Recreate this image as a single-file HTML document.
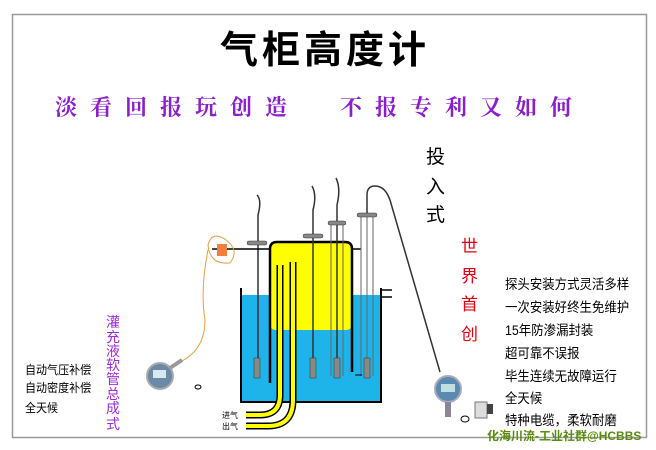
<!DOCTYPE html>
<html><head><meta charset="utf-8"><style>
html,body{margin:0;padding:0;background:#fff;}
svg{display:block;}
text{font-family:"Liberation Sans","Noto Sans CJK SC",sans-serif;}
</style></head><body>
<svg width="656" height="450" viewBox="0 0 656 450" xmlns="http://www.w3.org/2000/svg">
<rect x="0" y="0" width="656" height="450" fill="#fff"/>
<rect x="12.5" y="14.5" width="634" height="423" fill="#fff" stroke="#999" stroke-width="1.5"/>
<text x="325" y="63" text-anchor="middle" font-size="38" font-weight="bold" fill="#000" letter-spacing="4" style="font-family:'Noto Sans CJK SC',sans-serif">气柜高度计</text>
<text x="55" y="115" font-size="22" fill="#8a1ec8" letter-spacing="13" font-weight="bold" style="font-family:'Noto Serif CJK SC',serif">淡看回报玩创造</text>
<text x="340" y="115" font-size="22" fill="#8a1ec8" letter-spacing="13" font-weight="bold" style="font-family:'Noto Serif CJK SC',serif">不报专利又如何</text>
<g font-size="19" fill="#000"><text x="426" y="163">投</text><text x="426" y="193">入</text><text x="426" y="221">式</text></g>
<g font-size="17" fill="#e00010" style="font-family:'Noto Serif CJK SC',serif"><text x="461" y="252">世</text><text x="461" y="282">界</text><text x="461" y="310">首</text><text x="461" y="340">创</text></g>
<g font-size="13.5" fill="#000" transform="translate(505 0) scale(0.92 1)"><text x="0" y="289">探头安装方式灵活多样</text><text x="0" y="312">一次安装好终生免维护</text><text x="0" y="335">15年防渗漏封装</text><text x="0" y="358">超可靠不误报</text><text x="0" y="381">毕生连续无故障运行</text><text x="0" y="403">全天候</text><text x="0" y="425">特种电缆，柔软耐磨</text></g>
<text x="487" y="440" font-size="12" fill="#5a8a10" font-weight="bold">化海川流-工业社群@HCBBS</text>
<g font-size="12" fill="#000" transform="translate(25 0) scale(0.92 1)"><text x="0" y="374">自动气压补偿</text><text x="0" y="392">自动密度补偿</text><text x="0" y="412">全天候</text></g>
<g font-size="14" fill="#9a2ed0" text-anchor="middle"><text x="113" y="327">灌</text><text x="113" y="342">充</text><text x="113" y="356">液</text><text x="113" y="370">软</text><text x="113" y="384">管</text><text x="113" y="399">总</text><text x="113" y="413">成</text><text x="113" y="429">式</text></g>
<!-- tank -->
<rect x="242" y="295" width="138" height="106" fill="#1eb4ea"/>
<rect x="269" y="242" width="84" height="88" rx="7" fill="#ffff00"/>
<path d="M241 288 V402 H381 V288" fill="none" stroke="#000" stroke-width="2"/>
<path d="M381 290 H392 M381 297 H392" stroke="#000" stroke-width="1.5"/>
<path d="M270 383 V249 Q270 242 277 242 H345 Q352 242 352 249 V372" fill="none" stroke="#000" stroke-width="2.5"/>
<path d="M353 249 H361" stroke="#000" stroke-width="1.5"/>
<!-- yellow pipes -->
<g fill="none" stroke-linecap="butt">
<path d="M280 265 V395 Q280 415 260 415 H246" stroke="#000" stroke-width="7"/>
<path d="M280 265 V395 Q280 415 260 415 H246" stroke="#ffff00" stroke-width="4"/>
<path d="M293 262 V400 Q293 426 268 426 H246" stroke="#000" stroke-width="7"/>
<path d="M293 262 V400 Q293 426 268 426 H246" stroke="#ffff00" stroke-width="4"/>
</g>
<g font-size="8" fill="#000"><text x="222" y="418">进气</text><text x="222" y="429">出气</text></g>
<!-- probes -->
<g stroke="#333" fill="none">
<path d="M257 195 Q262 200 258 215 V360" stroke-width="1.5"/>
<path d="M312 186 Q317 195 313 210 V360" stroke-width="1.5"/>
<path d="M336 178 Q341 188 337 205 V360" stroke-width="1.5"/>
<path d="M331 222 V376 M343 222 V376" stroke="#666"/>
<path d="M367 215 V378 M361 215 V376 M373 215 V376" stroke="#666"/>
<path d="M367 215 V195 Q367 186 375 186 Q385 186 390 200 L440 372" stroke-width="1.5"/>
<path d="M355 375 H362" stroke="#000"/>
</g>
<g fill="#888" stroke="#333" stroke-width="0.5">
<rect x="247" y="241" width="20" height="4" rx="2"/>
<rect x="303" y="234" width="20" height="4" rx="2"/>
<rect x="328" y="221" width="18" height="4" rx="2"/>
<rect x="357" y="213" width="20" height="4" rx="2"/>
<rect x="254" y="358" width="6" height="20"/>
<rect x="310" y="358" width="6" height="20"/>
<rect x="334" y="358" width="6" height="20"/>
<rect x="364" y="358" width="6" height="20"/>
</g>
<!-- left sensor line -->
<path d="M212 249 H269" stroke="#000" stroke-width="1.5"/>
<rect x="217" y="244" width="10" height="12" fill="#f08040"/>
<path d="M226 240 Q240 250 230 263 Q210 265 208 245 Q212 230 226 240 M208 250 Q200 290 205 320 Q205 350 180 362" fill="none" stroke="#e0a040" stroke-width="1"/>
<!-- gauges -->
<circle cx="160" cy="376" r="13" fill="#6a8aa8" stroke="#aaa" stroke-width="2"/>
<rect x="153" y="370" width="13" height="8" fill="#d8e8f0"/>
<path d="M170 368 L182 360" stroke="#999" stroke-width="4"/>
<ellipse cx="198" cy="387" rx="3" ry="2" fill="none" stroke="#000"/>
<circle cx="448" cy="389" r="13" fill="#5a8ab0" stroke="#aab" stroke-width="2"/>
<rect x="441" y="384" width="14" height="8" fill="#c0e0e0"/>
<rect x="445" y="402" width="6" height="15" fill="#889"/>
<rect x="475" y="402" width="12" height="16" fill="#ddd" stroke="#777"/>
<rect x="487" y="404" width="6" height="10" fill="#444"/>
<ellipse cx="465" cy="419" rx="4" ry="3" fill="none" stroke="#000"/>
</svg>
</body></html>
